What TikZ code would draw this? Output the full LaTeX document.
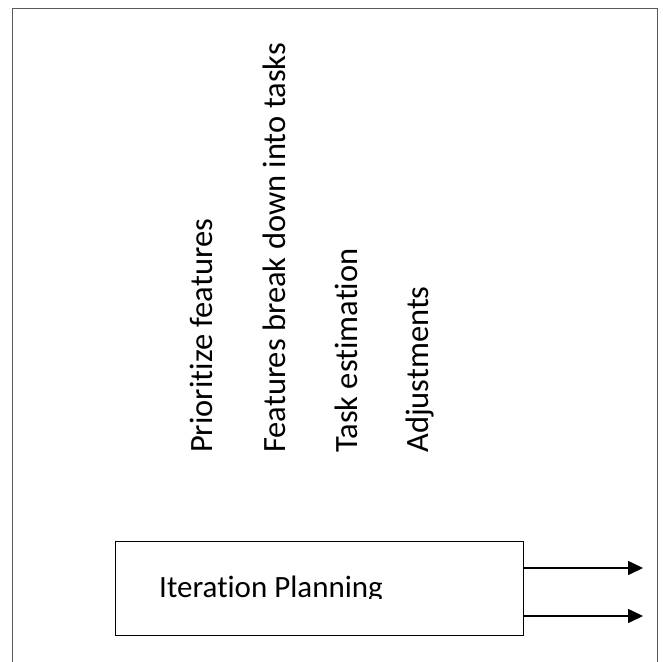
\documentclass[tikz,border=0pt]{standalone}
\usepackage{fontspec}
\setmainfont[Ligatures={NoCommon,NoRequired,NoContextual}]{Carlito}
\usetikzlibrary{arrows.meta}
\begin{document}
\begin{tikzpicture}[x=1pt,y=-1pt,
  frame/.style={draw=black!65, line width=1pt},
  planbox/.style={draw=black, line width=1.3pt, inner sep=0pt, minimum width=408pt, minimum height=94pt, anchor=north west},
  vlabel/.style={rotate=90, anchor=base west, inner sep=0pt, font=\fontsize{32.5}{38}\selectfont},
  blabel/.style={anchor=base west, inner sep=0pt, font=\fontsize{31}{37}\selectfont},
  outarrow/.style={draw=black, line width=1.6pt, -{Triangle[length=15pt,width=14pt]}}]
\useasboundingbox (0,0) rectangle (662,662);
\fill[white] (0,0) rectangle (662,662);
\draw[frame] (12,662) -- (12,8) -- (657,8) -- (657,662);
\node[vlabel] (p1) at (212,453) {Prioritize features};
\node[vlabel] (p2) at (285,453) {Features break down into tasks};
\node[vlabel] (p3) at (357,453) {Task estimation};
\node[vlabel] (p4) at (428,453) {Adjustments};
\node[planbox] (box) at (115,541) {};
\begin{scope}
  \clip (116,542) rectangle (522,598);
  \node[blabel] (bl) at (159,597) {Iteration Planning};
\end{scope}
\coordinate (t1) at (643,568);
\coordinate (t2) at (643,616);
\draw[outarrow] (box.east |- t1) -- (t1);
\draw[outarrow] (box.east |- t2) -- (t2);
\end{tikzpicture}
\end{document}
